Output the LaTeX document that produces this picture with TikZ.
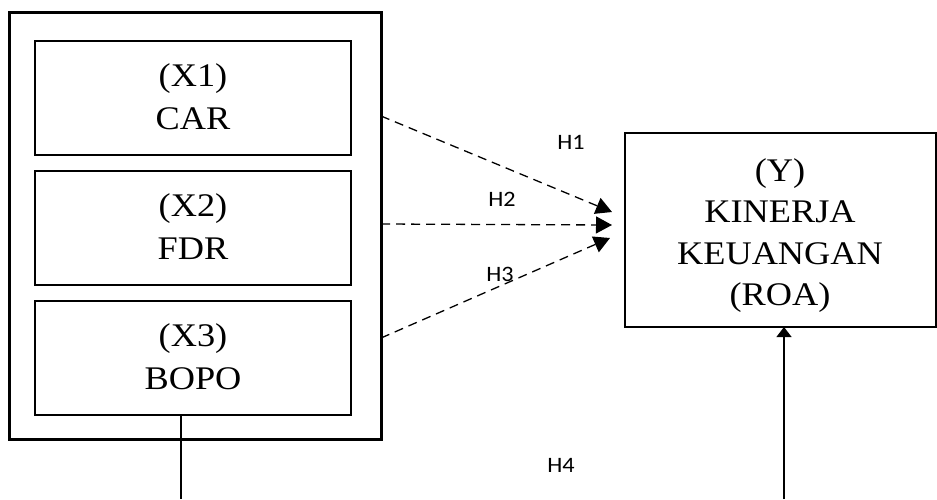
\documentclass[tikz,border=0pt]{standalone}
\usepackage{fontspec}
\setmainfont{Liberation Serif}[FakeStretch=1.1]
\newfontfamily\hfont{Carlito}[FakeStretch=1.1]
\usetikzlibrary{arrows.meta}
\tikzset{
  boxstyle/.style={draw, line width=1.2pt, inner sep=0pt},
  outerbox/.style={draw, line width=3pt, inner sep=0pt},
  vartext/.style={anchor=base, inner sep=0pt, font=\fontsize{33}{42}\selectfont},
  hyp/.style={inner sep=0pt, font=\hfont\fontsize{22}{26}\selectfont},
  dasharrow/.style={line width=1.3pt, dash pattern=on 9pt off 6pt, -{Triangle[length=16pt,width=17pt]}},
  solidline/.style={line width=1.2pt},
  solidarrow/.style={line width=1.2pt, -{Triangle[length=10pt,width=15pt]}}
}
\begin{document}
\begin{tikzpicture}[x=1pt,y=-1pt]
\useasboundingbox (0,0) rectangle (937,499);
% outer box
\node[outerbox, minimum width=372pt, minimum height=427pt] (outer) at (195,225.5) {};
% inner boxes
\node[boxstyle, minimum width=316pt, minimum height=114pt] (box1) at (193,98) {};
\node[boxstyle, minimum width=316pt, minimum height=114pt] (box2) at (193,228) {};
\node[boxstyle, minimum width=316pt, minimum height=114pt] (box3) at (193,358) {};
\node[vartext] (t1a) at (193,86) {(X1)};
\node[vartext] (t1b) at (193,129) {CAR};
\node[vartext] (t2a) at (193,216) {(X2)};
\node[vartext] (t2b) at (193,259) {FDR};
\node[vartext] (t3a) at (193,346) {(X3)};
\node[vartext] (t3b) at (193,389) {BOPO};
% Y box
\node[boxstyle, minimum width=311pt, minimum height=194pt] (ybox) at (780.5,230) {};
\node[vartext] (ya) at (780,181) {(Y)};
\node[vartext] (yb) at (780,222.5) {KINERJA};
\node[vartext] (yc) at (780,264) {KEUANGAN};
\node[vartext] (yd) at (780,305.5) {(ROA)};
% connector ends
\coordinate (s1) at (381,116);
\coordinate (s2) at (381,224);
\coordinate (s3) at (381,338);
\coordinate (e1) at (612,212);
\coordinate (e2) at (612,225);
\coordinate (e3) at (610,238);
\draw[dasharrow] (s1) -- (e1);
\draw[dasharrow] (s2) -- (e2);
\draw[dasharrow] (s3) -- (e3);
% hypothesis labels
\node[hyp] (h1) at (571,142) {H1};
\node[hyp] (h2) at (502,199) {H2};
\node[hyp] (h3) at (500,274) {H3};
\node[hyp] (h4) at (561,465) {H4};
% bottom lines
\coordinate (b3) at (181,415);
\coordinate (b3end) at (181,499);
\coordinate (ystart) at (784,499);
\coordinate (yend) at (784,327);
\draw[solidline] (b3) -- (b3end);
\draw[solidarrow] (ystart) -- (yend);
\end{tikzpicture}
\end{document}
